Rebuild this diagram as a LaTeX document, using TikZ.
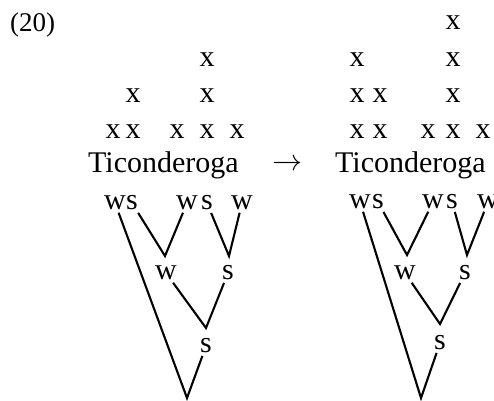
\RequirePackage{fix-cm}
\documentclass[tikz,border=0pt]{standalone}
\usepackage{fontspec}
\setmainfont{Liberation Serif}
\begin{document}
\begin{tikzpicture}[x=1pt,y=-1pt,
  lbl/.style={inner sep=2.5pt,font=\fontsize{30}{36}\selectfont},
  grid/.style={inner sep=0pt,font=\fontsize{30}{36}\selectfont},
  word/.style={inner sep=0pt,anchor=base west,font=\fontsize{30}{36}\selectfont},
  branch/.style={line width=2.1pt}]
\useasboundingbox (0,0) rectangle (494,400);
\fill[white] (0,0) rectangle (494,400);
% example number
\node[inner sep=0pt,anchor=base west,font=\fontsize{27}{32}\selectfont] (num) at (10,31) {(20)};
% left grid
\node[grid] (la1) at (113,132) {x};
\node[grid] (lb1) at (133,132) {x};
\node[grid] (lb2) at (133,96) {x};
\node[grid] (lc1) at (177,132) {x};
\node[grid] (ld1) at (207,132) {x};
\node[grid] (ld2) at (207,96) {x};
\node[grid] (ld3) at (207,60) {x};
\node[grid] (le1) at (237,132) {x};
\node[word] (lword) at (88,172) {Ticonderoga};
% arrow
\node[inner sep=0pt,font=\fontsize{30}{36}\selectfont] (arr) at (287,165) {$\rightarrow$};
% right grid
\node[grid] (ra1) at (357,132) {x};
\node[grid] (ra2) at (357,96) {x};
\node[grid] (ra3) at (357,60) {x};
\node[grid] (rb1) at (380,132) {x};
\node[grid] (rb2) at (380,96) {x};
\node[grid] (rc1) at (428,132) {x};
\node[grid] (rd1) at (453,132) {x};
\node[grid] (rd2) at (453,96) {x};
\node[grid] (rd3) at (453,60) {x};
\node[grid] (rd4) at (453,23) {x};
\node[grid] (re1) at (483,132) {x};
\node[word] (rword) at (335,172) {Ticonderoga};
% left tree
\node[lbl] (lt1) at (115,203) {w};
\node[lbl] (lt2) at (132,203) {s};
\node[lbl] (lt3) at (187,203) {w};
\node[lbl] (lt4) at (207,203) {s};
\node[lbl] (lt5) at (242,203) {w};
\node[lbl] (lm1) at (166,273) {w};
\node[lbl] (lm2) at (228,273) {s};
\node[lbl] (ll1) at (206,346) {s};
\coordinate (lv1) at (165,256);
\coordinate (lv2) at (229,256);
\coordinate (lv3) at (206,328);
\coordinate (lv4) at (187,398);
\draw[branch] (lt2) -- (lv1) -- (lt3);
\draw[branch] (lt4) -- (lv2) -- (lt5);
\draw[branch] (lm1) -- (lv3) -- (lm2);
\draw[branch] (lt1) -- (lv4) -- (ll1);
% right tree
\node[lbl] (rt1) at (360,202) {w};
\node[lbl] (rt2) at (378,202) {s};
\node[lbl] (rt3) at (433,202) {w};
\node[lbl] (rt4) at (452,202) {s};
\node[lbl] (rt5) at (488,202) {w};
\node[lbl] (rm1) at (405,273) {w};
\node[lbl] (rm2) at (465,273) {s};
\node[lbl] (rl1) at (440,343) {s};
\coordinate (rv1) at (407,255);
\coordinate (rv2) at (467,255);
\coordinate (rv3) at (440,324);
\coordinate (rv4) at (421,398);
\draw[branch] (rt2) -- (rv1) -- (rt3);
\draw[branch] (rt4) -- (rv2) -- (rt5);
\draw[branch] (rm1) -- (rv3) -- (rm2);
\draw[branch] (rt1) -- (rv4) -- (rl1);
\end{tikzpicture}
\end{document}
